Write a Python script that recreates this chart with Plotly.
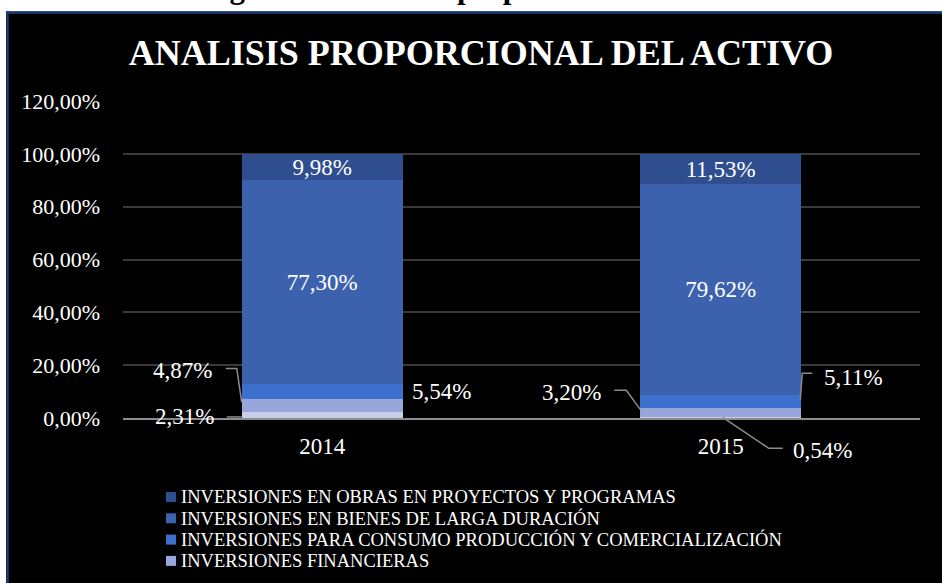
import plotly.graph_objects as go

# --- data (percent of total assets) ---
year_labels = ['2014', '2015']
otras = [2.31, 0.54]            # bottom slice, no legend entry in the source
financieras = [4.87, 3.20]
consumo = [5.54, 5.11]
bienes = [77.30, 79.62]
obras = [9.98, 11.53]

y_tick_vals = [0, 20, 40, 60, 80, 100, 120]
y_tick_text = ['0,00%', '20,00%', '40,00%', '60,00%', '80,00%', '100,00%', '120,00%']

FONT = 'Liberation Serif, Times New Roman, serif'
W, H = 942, 583
PLOT_L, PLOT_R, PLOT_T, PLOT_B = 123, 920, 101, 418
ML, MT, MR, MB = PLOT_L, PLOT_T, W - PLOT_R, H - PLOT_B
PW, PH = PLOT_R - PLOT_L, PLOT_B - PLOT_T
X_RANGE = [-0.5, 1.5]
Y_RANGE = [0, 120]
BAR_W = 0.404


def pct(v):
    return f'{v:.2f}'.replace('.', ',') + '%'


def px_x(p):  # pixel -> paper x
    return (p - PLOT_L) / PW


def px_y(p):  # pixel -> paper y
    return (PLOT_B - p) / PH


def data_px(x, y):  # data coords -> pixels
    return (PLOT_L + (x - X_RANGE[0]) / (X_RANGE[1] - X_RANGE[0]) * PW,
            PLOT_B - (y - Y_RANGE[0]) / (Y_RANGE[1] - Y_RANGE[0]) * PH)


x_pos = list(range(len(year_labels)))

fig = go.Figure()

series = [
    ('', otras, '#C9CEEA', False),
    ('INVERSIONES FINANCIERAS', financieras, '#97A6DB', False),
    ('INVERSIONES PARA CONSUMO PRODUCCIÓN Y COMERCIALIZACIÓN', consumo, '#3D6FCE', False),
    ('INVERSIONES EN BIENES DE LARGA DURACIÓN', bienes, '#3C62AE', True),
    ('INVERSIONES EN OBRAS EN PROYECTOS Y PROGRAMAS', obras, '#2F4E90', True),
]

for name, vals, color, inside in series:
    fig.add_trace(go.Bar(
        x=x_pos, y=vals, name=name, width=BAR_W,
        marker=dict(color=color, line=dict(width=0)),
        showlegend=False,
        text=[pct(v) for v in vals] if inside else None,
        textposition='inside' if inside else 'none',
        insidetextanchor='middle',
        constraintext='none',
        textangle=0,
        textfont=dict(family=FONT, size=23, color='white'),
        hovertemplate='%{y:.2f}%<extra>' + name + '</extra>',
    ))

# legend drawn by hand (tighter rows than the built-in one), top entry first
legend_rows = series[1:][::-1]
for k, (name, vals, color, _) in enumerate(legend_rows):
    yc = 497 + k * 21.3
    fig.add_shape(type='rect', xref='paper', yref='paper',
                  x0=px_x(166), x1=px_x(176), y0=px_y(yc + 5), y1=px_y(yc - 5),
                  fillcolor=color, line=dict(width=0))
    fig.add_annotation(x=px_x(179), y=px_y(yc), xref='paper', yref='paper',
                       text=name, showarrow=False, xanchor='left', yanchor='middle',
                       font=dict(family=FONT, size=18.5, color='white'))

# cumulative bases for the small slices
base_otras = [0, 0]
base_fin = otras
base_cons = [a + b for a, b in zip(otras, financieras)]
half = BAR_W / 2

# outside labels: (values, base, index, anchor x offset, leader pts (px), text offset (px), xanchor)
outside = [
    (otras, base_otras, 0, -half, [(0, 2), (-15, 2)], (-26, 2), 'right'),
    (financieras, base_fin, 0, -half, [(0, -3), (-5, -37), (-16, -37)], (-28, -35), 'right'),
    (consumo, base_cons, 0, half, [], (7, 0), 'left'),
    (financieras, base_fin, 1, -half, [(0, -3), (-14, -22), (-26, -22)], (-37, -20), 'right'),
    (consumo, base_cons, 1, half, [(-1, -1), (1, -28), (11, -28)], (21, -24), 'left'),
    (otras, base_otras, 1, 0, [(2, 0), (48, 31), (62, 31)], (70, 33), 'left'),
]

for vals, base, i, ax_off, pts, (tx, ty), anchor in outside:
    x0 = x_pos[i] + ax_off
    y0 = base[i] + vals[i] / 2
    ax_px, ay_px = data_px(x0, y0)
    if pts:
        path = ' '.join(
            ('M' if j == 0 else 'L') + f'{px_x(ax_px + p[0]):.5f},{px_y(ay_px + p[1]):.5f}'
            for j, p in enumerate(pts))
        fig.add_shape(type='path', xref='paper', yref='paper', path=path,
                      line=dict(color='#8C8C8C', width=1.5))
    fig.add_annotation(
        x=x0, y=y0, xref='x', yref='y', xshift=tx, yshift=-ty,
        text=pct(vals[i]), showarrow=False, xanchor=anchor, yanchor='middle',
        font=dict(family=FONT, size=23, color='white'))

# cut-off caption of the source document (only its lowest edge shows)
fig.add_annotation(
    x=px_x(482), y=px_y(-13), xref='paper', yref='paper',
    text='<b>Figura 30. Análisis proporcional del activo</b>', showarrow=False,
    xanchor='center', yanchor='middle',
    font=dict(family=FONT, size=31, color='black'))

# white page strips and the navy frame of the pasted chart
fig.add_shape(type='rect', xref='paper', yref='paper', layer='below',
              x0=px_x(0), x1=px_x(W), y0=px_y(11.5), y1=px_y(0),
              fillcolor='white', line=dict(width=0))
fig.add_shape(type='rect', xref='paper', yref='paper', layer='below',
              x0=px_x(0), x1=px_x(6), y0=px_y(H), y1=px_y(0),
              fillcolor='white', line=dict(width=0))
fig.add_shape(type='line', xref='paper', yref='paper', layer='below',
              x0=px_x(6), x1=px_x(W), y0=px_y(12.5), y1=px_y(12.5),
              line=dict(color='#1F3B78', width=2.5))
fig.add_shape(type='line', xref='paper', yref='paper', layer='below',
              x0=px_x(7.5), x1=px_x(7.5), y0=px_y(11.5), y1=px_y(H),
              line=dict(color='#1F3B78', width=2.5))

fig.update_layout(
    width=W, height=H,
    barmode='stack',
    bargap=0.6,
    margin=dict(l=ML, r=MR, t=MT, b=MB, autoexpand=False),
    paper_bgcolor='black',
    plot_bgcolor='rgba(0,0,0,0)',
    font=dict(family=FONT, color='white'),
    title=dict(text='<b>ANALISIS PROPORCIONAL DEL ACTIVO</b>',
               x=481 / W, xanchor='center',
               y=1 - 52 / H, yanchor='middle',
               font=dict(family=FONT, size=36, color='white')),
    showlegend=False,
)

fig.update_xaxes(range=X_RANGE, tickvals=x_pos, ticktext=year_labels,
                 showgrid=False, zeroline=False,
                 showline=True, linecolor='#8C8C8C', linewidth=2,
                 ticks='', ticklabelstandoff=6,
                 tickfont=dict(family=FONT, size=23, color='white'))
fig.update_yaxes(range=Y_RANGE, tickvals=y_tick_vals, ticktext=y_tick_text,
                 showgrid=True, gridcolor='#3A3A3A', gridwidth=2,
                 zeroline=False, showline=False,
                 ticks='', ticklabelstandoff=22,
                 tickfont=dict(family=FONT, size=22, color='white'))

# drop the default page margin so the figure fills the window
fig.write_html('out.html', config={'displayModeBar': False},
               post_script="document.body.style.margin='0';")
